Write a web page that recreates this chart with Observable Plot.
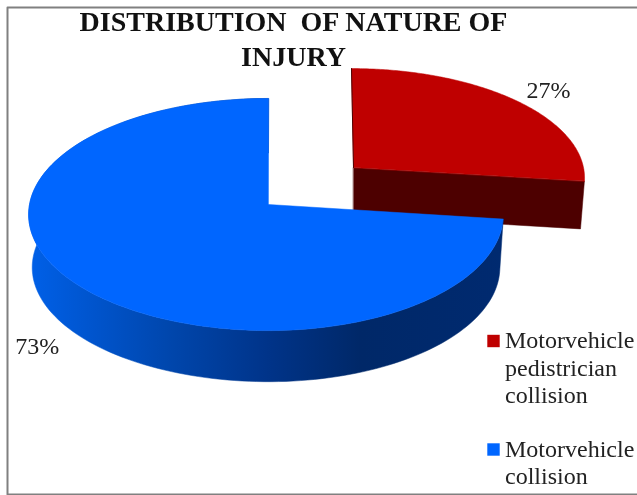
<!DOCTYPE html>
<html>
<head>
<meta charset="utf-8">
<script src="https://cdn.jsdelivr.net/npm/d3@7"></script>
<script src="https://cdn.jsdelivr.net/npm/@observablehq/plot@0.6"></script>
<style>
html,body{margin:0;padding:0;background:#fff}
svg{display:block;filter:blur(0.45px)}
svg text{white-space:pre}
</style>
</head>
<body>
<div id="chart"></div>
<script>
const categories = ["Motorvehicle pedistrician collision", "Motorvehicle collision"];
const shares = [27, 73];
const percentLabels = ["27%", "73%"];
const sliceColors = ["#bf0000", "#0066ff"];
const wallFills = ["#4d0000", "url(#blueWall)"];
const legendLabels = ["Motorvehicle\npedistrician\ncollision", "Motorvehicle\ncollision"];
const titleLines = ["DISTRIBUTION  OF NATURE OF", "INJURY"];

// Projection of each (exploded) slice: origin, radii, perspective k, wall depth
const shapes = [
  {ox: 353, oy: 167, rxR: 230, rxL: 230, ry: 107.5, k: 0.0864, skew: -2, depth: 48, shrink: 0.983},
  {ox: 268, oy: 204, rxR: 234, rxL: 239, ry: 115.2, k: 0.0864, skew: 0, depth: 53, shrink: 0.985}
];
const total = d3.sum(shares);
let acc = 0;
const slices = shares.map((v, i) => {
  const a0 = acc / total * 2 * Math.PI; acc += v;
  const a1 = acc / total * 2 * Math.PI;
  return {i, a0, a1, s: shapes[i]};
});
function pt(s, a, lower = false, r = 1) {
  const u = Math.sin(a) * r, v = Math.cos(a) * r, d = 1 + s.k * v;
  const f = lower ? s.shrink : 1;
  return {
    x: s.ox + f * ((u >= 0 ? s.rxR : s.rxL) * u / d + s.skew * v),
    y: s.oy + (lower ? s.depth : 0) - f * s.ry * v / d
  };
}
function arc(s, a0, a1, lower) {
  const n = 160;
  return d3.range(n + 1).map(j => pt(s, a0 + (a1 - a0) * j / n, lower));
}
const origin = (s, lower) => ({x: s.ox, y: s.oy + (lower ? s.depth : 0)});
const topFace = ({s, a0, a1}) => [origin(s), ...arc(s, a0, a1, false)];
// red: straight cut wall; blue: curved outer wall
const redWall = ({s, a1}) => [origin(s), pt(s, a1), pt(s, a1, true), origin(s, true)];
const blueWall = ({s, a0, a1}) => [...arc(s, a0, a1, false), ...arc(s, a0, a1, true).reverse()];

const poly = (pts, fill) => Plot.line(pts, {x: "x", y: "y", fill, stroke: fill, strokeWidth: 0.5, curve: "linear-closed"});

const gradient = () => {
  const defs = d3.create("svg:defs");
  const g = defs.append("linearGradient").attr("id", "blueWall")
    .attr("x1", 0).attr("x2", 1).attr("y1", 0).attr("y2", 0);
  [[0, "#0060e8"], [0.3, "#0046ac"], [0.5, "#00348a"], [0.7, "#002868"], [1, "#002a70"]]
    .forEach(([o, c]) => g.append("stop").attr("offset", o).attr("stop-color", c));
  return defs.node();
};

const serif = "Liberation Serif";
const [red, blue] = slices;
const midAngle = d => (d.a0 + d.a1) / 2;
const pctAnchors = slices.map(d => ({...pt(d.s, midAngle(d)), label: percentLabels[d.i]}));
const pctOffsets = [{dx: 33, dy: -10}, {dx: -41, dy: 61}];
const legend = legendLabels.map((label, i) => ({label, color: sliceColors[i], y: [340.5, 449][i]}));
const titles = titleLines.map((t, i) => ({t, y: [22, 57][i]}));

const chart = Plot.plot({
  width: 637, height: 495, margin: 0,
  x: {domain: [0, 637], range: [0, 637], axis: null},
  y: {domain: [0, 495], range: [0, 495], axis: null},
  marks: [
    gradient,
    Plot.line([{x: 640, y: 7}, {x: 7, y: 7}, {x: 7, y: 494}, {x: 640, y: 494}],
      {x: "x", y: "y", stroke: "#808080", strokeWidth: 2, curve: "linear"}),
    poly(redWall(red), wallFills[0]),
    poly(topFace(red), sliceColors[0]),
    Plot.line([origin(red.s), pt(red.s, 0)], {x: "x", y: "y", stroke: "#4d0000", strokeWidth: 1}),
    poly(blueWall(blue), wallFills[1]),
    poly(topFace(blue), sliceColors[1]),
    Plot.text(titles, {x: 293, y: "y", text: "t", fontFamily: serif, fontWeight: "bold", fontSize: 28, fill: "#111", textAnchor: "middle"}),
    ...pctAnchors.map((d, i) => Plot.text([d], {x: "x", y: "y", text: "label", ...pctOffsets[i], fontFamily: serif, fontSize: 24, fill: "#222"})),
    Plot.dot(legend, {x: 493, y: "y", symbol: "square", r: 7, fill: "color"}),
    Plot.text(legend, {x: 504.5, y: d => d.y - 12.5, text: "label", textAnchor: "start", lineAnchor: "top", lineHeight: 1.15, fontFamily: serif, fontSize: 24, fill: "#222"})
  ]
});
document.getElementById("chart").append(chart);
</script>
</body>
</html>
